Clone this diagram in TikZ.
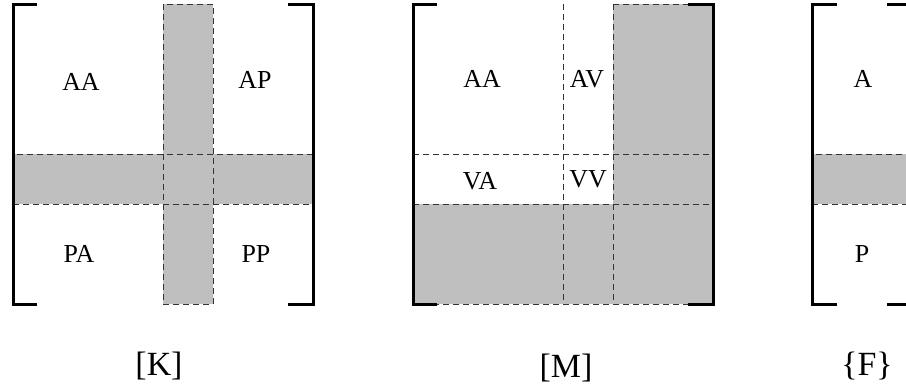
\documentclass[tikz,border=0pt]{standalone}
\usepackage{fontspec}
\setmainfont{Liberation Serif}
\begin{document}
\begin{tikzpicture}[x=1bp,y=-1bp,
  shade/.style={fill=black!25, draw=none},
  dline/.style={draw=black!80, line width=0.9bp, dash pattern=on 6bp off 4bp},
  brk/.style={draw=black, line width=3bp},
  inlab/.style={anchor=base, inner sep=0pt, font=\fontsize{26}{30}\selectfont},
  outlab/.style={anchor=base, inner sep=0pt, font=\fontsize{34}{40}\selectfont}]
\useasboundingbox (0,0) rectangle (906,391);
\clip (0,0) rectangle (906,391);
% ---------- Matrix K ----------
\fill[shade] (163,4) rectangle (213,304);
\fill[shade] (13,154) rectangle (313,204);
\draw[dline] (163,4) rectangle (213,304);
\draw[dline] (13,154) rectangle (313,204);
\draw[brk] (37,4) -- (13,4) -- (13,304) -- (37,304);
\draw[brk] (288,4) -- (313,4) -- (313,304) -- (288,304);
\node[inlab] (kaa) at (81,90) {AA};
\node[inlab] (kap) at (255,88) {AP};
\node[inlab] (kpa) at (79,262) {PA};
\node[inlab] (kpp) at (256,262) {PP};
\node[outlab] (klab) at (159,375) {[K]};
% ---------- Matrix M ----------
\fill[shade] (613,4) rectangle (713,304);
\fill[shade] (413,204) rectangle (713,304);
\draw[dline] (563,4) -- (563,304);
\draw[dline] (613,4) -- (613,304);
\draw[dline] (413,154) -- (713,154);
\draw[dline] (413,204) -- (713,204);
\draw[dline] (613,4) -- (713,4);
\draw[dline] (413,304) -- (713,304);
\draw[brk] (437,4) -- (413,4) -- (413,304) -- (437,304);
\draw[brk] (688,4) -- (713,4) -- (713,304) -- (688,304);
\node[inlab] (maa) at (482,87) {AA};
\node[inlab] (mav) at (587,87) {AV};
\node[inlab] (mva) at (480,189) {VA};
\node[inlab] (mvv) at (588,187) {VV};
\node[outlab] (mlab) at (566,377) {[M]};
% ---------- Vector F ----------
\fill[shade] (812,154) rectangle (912,204);
\draw[dline] (812,154) rectangle (912,204);
\draw[brk] (837,4) -- (812,4) -- (812,304) -- (837,304);
\draw[brk] (887,4) -- (912,4) -- (912,304) -- (887,304);
\node[inlab] (fa) at (863,87) {A};
\node[inlab] (fp) at (862,262) {P};
\node[outlab] (flab) at (867,375) {\{F\}};
\end{tikzpicture}
\end{document}
